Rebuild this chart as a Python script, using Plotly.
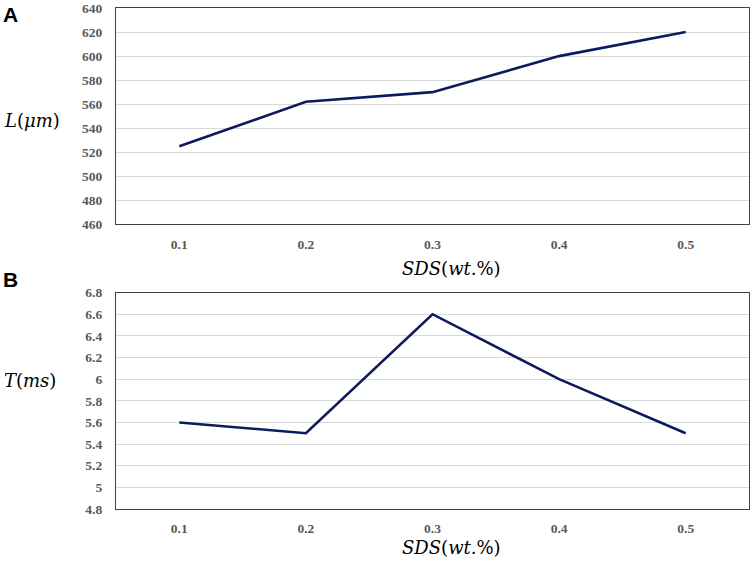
import plotly.graph_objects as go
from plotly.subplots import make_subplots

# SDS concentration (wt.%)
sds = ["0.1", "0.2", "0.3", "0.4", "0.5"]
# panel A: length L (um)
length_um = [525, 562, 570, 600, 620]
# panel B: time T (ms)
time_ms = [5.6, 5.5, 6.6, 6.0, 5.5]

line_col = "#0d1b5e"
tick_font = dict(family="Liberation Serif", size=13.5, color="#595959", weight="bold")

fig = make_subplots(rows=2, cols=1, vertical_spacing=0.136)

fig.add_trace(go.Scatter(x=sds, y=length_um, mode="lines",
                         line=dict(color=line_col, width=2.6)), row=1, col=1)
fig.add_trace(go.Scatter(x=sds, y=time_ms, mode="lines",
                         line=dict(color=line_col, width=2.6)), row=2, col=1)

fig.update_xaxes(type="category", range=[-0.5, 4.5], showline=True, mirror=True,
                 linecolor="#404040", linewidth=1.3, showgrid=False, ticks="",
                 tickfont=tick_font, ticklabelstandoff=7)
fig.update_yaxes(showline=True, mirror=True, linecolor="#404040", linewidth=1.3,
                 showgrid=True, gridcolor="#d9d9d9", gridwidth=1, zeroline=False,
                 ticks="", tickfont=tick_font, ticklabelstandoff=10)
fig.update_yaxes(range=[460, 640], dtick=20, row=1, col=1)
fig.update_yaxes(range=[4.8, 6.8], dtick=0.2, tickformat="~g", row=2, col=1)

lab_font = dict(family="DejaVu Serif", size=18, color="#000000")
ann = [
    dict(text="<b>A</b>", x=-0.182, y=0.988, xanchor="left", yanchor="middle",
         font=dict(family="Liberation Sans", size=21, color="#000")),
    dict(text="<b>B</b>", x=-0.182, y=0.458, xanchor="left", yanchor="middle",
         font=dict(family="Liberation Sans", size=21, color="#000")),
    dict(text="<i>L</i>(<i>μm</i>)", x=-0.18, y=0.775, xanchor="left",
         yanchor="middle", font=lab_font),
    dict(text="<i>T</i>(<i>ms</i>)", x=-0.18, y=0.256, xanchor="left",
         yanchor="middle", font=lab_font),
    dict(text="<i>SDS</i>(<i>wt.</i>%)", x=0.53, y=0.481, xanchor="center",
         yanchor="middle", font=lab_font),
    dict(text="<i>SDS</i>(<i>wt.</i>%)", x=0.53, y=-0.076, xanchor="center",
         yanchor="middle", font=lab_font),
]
for a in ann:
    a.update(xref="paper", yref="paper", showarrow=False)
fig.update_layout(annotations=ann)

fig.update_layout(width=754, height=558, showlegend=False,
                  margin=dict(l=116, r=5, t=1, b=49),
                  plot_bgcolor="white", paper_bgcolor="white")

fig.write_html("out.html", config={"displayModeBar": False},
               post_script="document.body.style.margin='0';")
